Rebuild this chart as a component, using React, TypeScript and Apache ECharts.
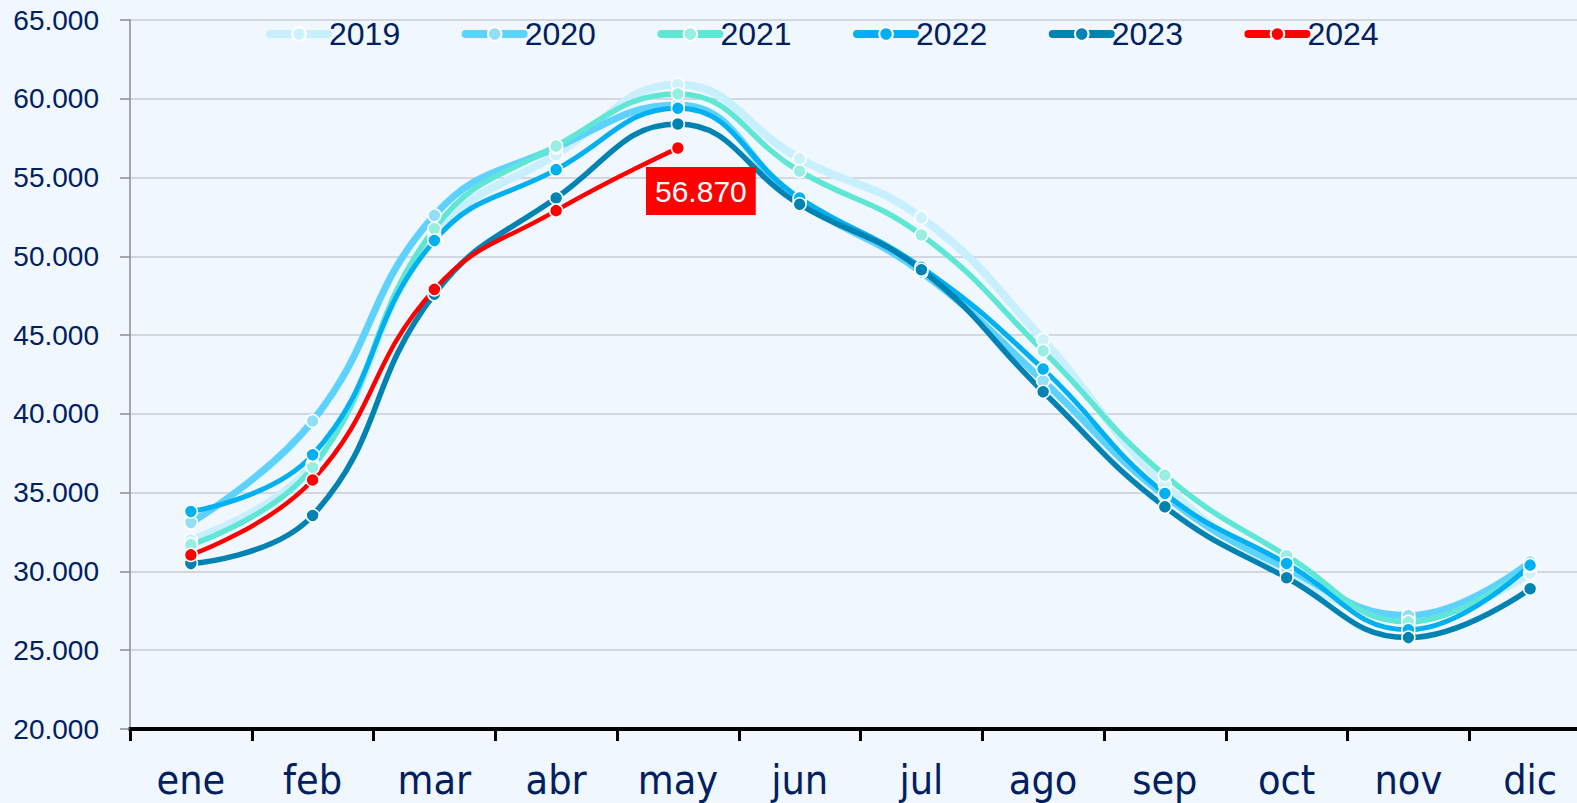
import React, { useEffect, useRef } from "react";
import * as echarts from "echarts";

const months = ["ene", "feb", "mar", "abr", "may", "jun", "jul", "ago", "sep", "oct", "nov", "dic"];
const yTicks = { min: 20000, max: 65000, step: 5000 };

const y2019 = [32000, 36800, 51300, 56450, 60900, 56200, 52450, 44700, 35500, 30000, 27000, 29900];
const y2020 = [33100, 39550, 52600, 56900, 59600, 53500, 49000, 42100, 34800, 30200, 27200, 30600];
const y2021 = [31700, 36600, 51750, 57000, 60300, 55400, 51350, 44000, 36100, 31000, 26800, 30350];
const y2022 = [33800, 37400, 51000, 55500, 59400, 53700, 49300, 42850, 34950, 30500, 26300, 30400];
const y2023 = [30500, 33550, 47600, 53700, 58400, 53300, 49150, 41400, 34100, 29600, 25800, 28900];
const y2024 = [31050, 35800, 47900, 52900, 56870];

const seriesDefs = [
  { name: "2019", data: y2019, line: "#c8effd", marker: "#cdf1fd", width: 8 },
  { name: "2020", data: y2020, line: "#5dd2ff", marker: "#93defb", width: 7 },
  { name: "2021", data: y2021, line: "#5fe6d4", marker: "#98eee2", width: 5.5 },
  { name: "2022", data: y2022, line: "#00b0f0", marker: "#00b0f0", width: 5 },
  { name: "2023", data: y2023, line: "#0083b3", marker: "#0083b3", width: 5.5 },
  { name: "2024", data: y2024, line: "#ff0000", marker: "#ff0000", width: 4.5 },
];

const TEXT = "#002060";
const FONT = "'Liberation Sans', Arial, sans-serif";
const NARROW = "'Liberation Sans Narrow', 'DejaVu Sans Condensed', 'Liberation Sans', sans-serif";

export default function App() {
  const ref = useRef<HTMLDivElement>(null);
  useEffect(() => {
    if (!ref.current) return;
    const chart = echarts.init(ref.current, null, { renderer: "svg" });
    const last = y2024.length - 1;
    chart.setOption({
      animation: false,
      backgroundColor: "#f0f7fe",
      legend: {
        top: 18,
        left: 266,
        itemWidth: 58,
        itemHeight: 17,
        itemGap: 61.5,
        padding: 0,
        lineStyle: { width: 8, cap: "round" },
        textStyle: { color: TEXT, fontSize: 32, fontFamily: FONT, padding: [0, 0, 0, -4] },
        data: seriesDefs.map((s) => s.name),
      },
      grid: { left: 130, top: 20, height: 709, width: 1461, containLabel: false },
      xAxis: {
        type: "category",
        data: months,
        boundaryGap: true,
        axisLine: { lineStyle: { color: "#000000", width: 4 } },
        axisTick: { show: true, interval: 0, length: 12, lineStyle: { color: "#000000", width: 3 } },
        axisLabel: { color: TEXT, fontSize: 41, fontFamily: NARROW, margin: 30, interval: 0 },
        splitLine: { show: false },
      },
      yAxis: {
        type: "value",
        min: yTicks.min,
        max: yTicks.max,
        interval: yTicks.step,
        axisLine: { show: true, lineStyle: { color: "#8c8c8c", width: 1.5 } },
        axisTick: { show: true, length: 10, lineStyle: { color: "#8c8c8c", width: 1.5 } },
        axisLabel: {
          color: TEXT,
          fontSize: 28,
          fontFamily: FONT,
          margin: 31,
          formatter: (v: number) => `${v / 1000}.000`,
        },
        splitLine: { lineStyle: { color: "#c9cdd6", width: 1.5 } },
      },
      series: seriesDefs.map((s) => ({
        name: s.name,
        type: "line",
        smooth: 0.45,
        symbol: "circle",
        symbolSize: 13,
        lineStyle: { color: s.line, width: s.width, cap: "round" },
        itemStyle: { color: s.marker, borderColor: "#ffffff", borderWidth: 1.5 },
        data:
          s.name === "2024"
            ? s.data.map((v, i) =>
                i === last
                  ? {
                      value: v,
                      label: {
                        show: true,
                        position: "inside",
                        offset: [23, 43],
                        formatter: () => v.toLocaleString("de-DE"),
                        color: "#ffffff",
                        fontSize: 30,
                        fontFamily: FONT,
                        backgroundColor: "#ff0000",
                        padding: [9, 9, 9, 9],
                        lineHeight: 30,
                      },
                    }
                  : v
              )
            : s.data,
      })),
    });
    return () => chart.dispose();
  }, []);
  return (
    <div
      ref={ref}
      style={{ position: "fixed", left: 0, top: 0, width: 1600, height: 803, background: "#f0f7fe" }}
    />
  );
}
